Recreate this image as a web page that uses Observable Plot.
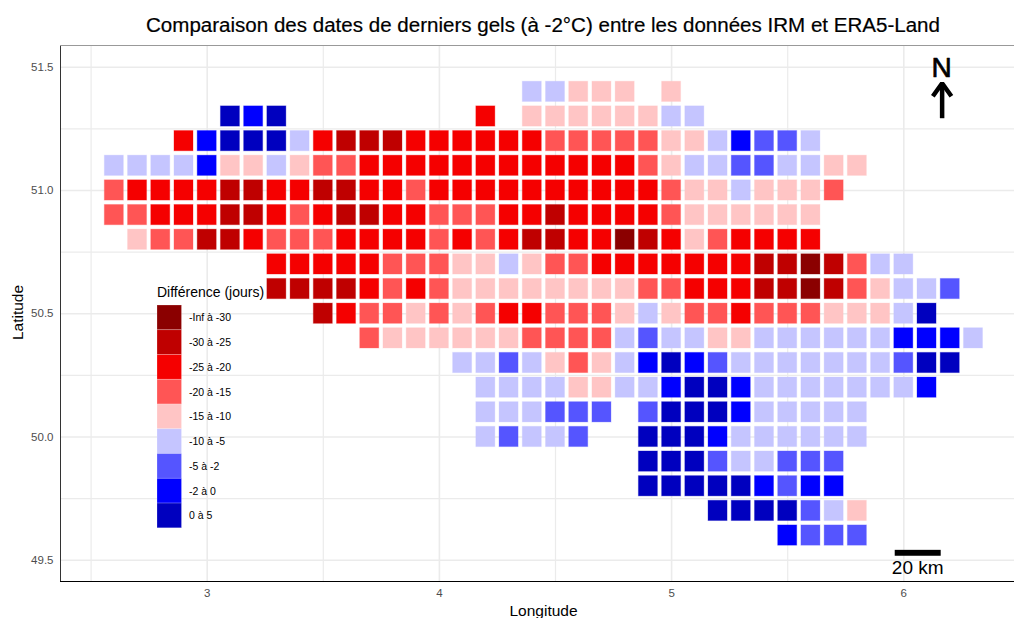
<!DOCTYPE html>
<html><head><meta charset="utf-8">
<script src="https://cdn.jsdelivr.net/npm/d3@7"></script>
<script src="https://cdn.jsdelivr.net/npm/@observablehq/plot@0.6"></script>
<style>
html,body{margin:0;padding:0;background:#fff;overflow:hidden}
#wrap{position:relative;width:1014px;height:618px;font-family:"Liberation Sans",sans-serif}
#title{position:absolute;left:146px;top:13px;font-size:20.55px;color:#000;white-space:nowrap;-webkit-text-stroke:0.2px #000}
#legtitle{position:absolute;left:157px;top:284px;font-size:14px;color:#000;white-space:nowrap}
#leg{position:absolute;left:157px;top:305px}
#main{position:absolute;left:0;top:0}
svg{display:block}
</style></head><body><div id="wrap"><div id="main"></div><div id="title">Comparaison des dates de derniers gels (à -2°C) entre les données IRM et ERA5-Land</div><div id="legtitle">Différence (jours)</div><div id="leg"></div></div>
<script>
const classes = ["-Inf à -30","-30 à -25","-25 à -20","-20 à -15","-15 à -10","-10 à -5","-5 à -2","-2 à 0","0 à 5"];
const colors  = ["#8b0000","#bf0000","#f50000","#ff5555","#ffc5c5","#c5c5ff","#5555ff","#0000ff","#0000bf"];
const codes = "ABCDEFGHI";
const lats = [51.4,51.3,51.2,51.1,51.0,50.9,50.8,50.7,50.6,50.5,50.4,50.3,50.2,50.1,50.0,49.9,49.8,49.7,49.6];
const startLons = [4.4,3.1,2.9,2.6,2.6,2.6,2.7,3.3,3.3,3.5,3.7,4.1,4.2,4.2,4.2,4.9,4.9,5.2,5.5];
const rowCodes = [
 "FFEEE.E",
 "IHI........C.EEEEEEFF",
 "CHIIIFCBBBCCCCCCDDDDDEEFHGGF",
 "FFFFHEEFEDDCCCCCCCCCCCCDEFFGGFFEE",
 "DCCCCBBCCBBCCDCCCCCCCCCCDEEFEEED",
 "DDCCCBBCDCBBCCDDDCCBCCCCDEEEEEE",
 "EDDBBCDDDCCCCDCDCBBCCABCEDCCCC",
 "CCCCCDDDEEFEDDCCCCCCCBBABDFF",
 "BBBBCDCDEEEEEEEEDDCCCBBABDEFFG",
 "BCDDEDEDCCDDDEFEDDCDDDEEEFI",
 "DEEEEEEDDDDFGFFEEFFFFFFHHHF",
 "FFGFEDEFHIHGFFFFFFFGII",
 "FFFFEEFFHIIHFFFFFFFH",
 "FFFGGG.GIIIHFFFFF",
 "FGFFG..IIIHFFFFFF",
 "IIIGFFGGG",
 "IIIIIHGHH",
 "IIIIGFE",
 "HGGG"
];
const tickLons = [3,4,5,6];
const tickLats = [49.5,50,50.5,51,51.5];
const minorLons = [2.5,3.5,4.5,5.5];
const minorLats = [49.75,50.25,50.75,51.25];
const scaleBar = [{x1:5.963,x2:6.161,y1:49.516,y2:49.54,label:"20 km",lx:6.06,ly:49.47}];
const northLabel = [{x:6.163,y:51.495,label:"N"}];
const northShaft = [{x:6.165,y1:51.293,y2:51.43}];
const northHeadLon = [6.125,6.165,6.205];
const northHeadLat = [51.382,51.435,51.382];

const tiles = [];
rowCodes.forEach((s,i)=>{
  [...s].forEach((c,j)=>{
    if(c!=="."){
      const lon = Math.round((startLons[i]+j*0.1)*10)/10;
      tiles.push({lon,lat:lats[i],cls:classes[codes.indexOf(c)]});
    }
  });
});

const chart = Plot.plot({
  width:1014,height:618,marginLeft:60,marginRight:0,marginTop:45,marginBottom:37,
  style:{fontFamily:"Liberation Sans, sans-serif",background:"#fff"},
  x:{domain:[2.3682,6.4767],label:null,axis:null},
  y:{domain:[49.4136,51.588],label:null,axis:null},
  color:{domain:classes,range:colors},
  marks:[
    Plot.gridX(minorLons,{stroke:"#ebebeb",strokeWidth:1.2,strokeOpacity:1}),
    Plot.gridY(minorLats,{stroke:"#ebebeb",strokeWidth:1.2,strokeOpacity:1}),
    Plot.gridX(tickLons,{stroke:"#ebebeb",strokeWidth:1.6,strokeOpacity:1}),
    Plot.gridY(tickLats,{stroke:"#ebebeb",strokeWidth:1.6,strokeOpacity:1}),
    Plot.rect(tiles,{x1:d=>d.lon-0.05,x2:d=>d.lon+0.05,y1:d=>d.lat-0.05,y2:d=>d.lat+0.05,
      fill:"cls",stroke:"cls",strokeOpacity:0.3,strokeWidth:1,insetLeft:2.1,insetRight:2.1,insetTop:2.2,insetBottom:2.2}),
    Plot.rect(scaleBar,{x1:"x1",x2:"x2",y1:"y1",y2:"y2",fill:"#000"}),
    Plot.text(scaleBar,{x:"lx",y:"ly",text:"label",fontSize:19,fill:"#000"}),
    Plot.text(northLabel,{x:"x",y:"y",text:"label",fontSize:28,fill:"#000",stroke:"#000",strokeWidth:0.7}),
    Plot.link(northShaft,{x1:"x",x2:"x",y1:"y1",y2:"y2",stroke:"#000",strokeWidth:4.5}),
    Plot.line(northHeadLon.map((x,i)=>[x,northHeadLat[i]]),{stroke:"#000",strokeWidth:4.5,strokeLinejoin:"miter",strokeLinecap:"butt"}),
    Plot.ruleY([49.4136],{stroke:"#000",strokeWidth:1.2}),
    Plot.ruleX([2.3682],{stroke:"#333",strokeWidth:1}),
    Plot.ruleY([51.588],{stroke:"#999",strokeWidth:1.2}),
    Plot.axisX(tickLons,{anchor:"bottom",tickSize:0,tickPadding:7,fontSize:11.5,color:"#4d4d4d",tickFormat:d3.format("d"),label:null}),
    Plot.axisY(tickLats,{anchor:"left",tickSize:0,tickPadding:7,fontSize:11.5,color:"#4d4d4d",tickFormat:d3.format(".1f"),label:null}),
    Plot.text(["Longitude"],{frameAnchor:"bottom",dx:6,dy:34,lineAnchor:"bottom",fontSize:15.5,fill:"#000"}),
    Plot.text(["Latitude"],{frameAnchor:"left",textAnchor:"middle",rotate:-90,dx:-42,dy:-1,fontSize:15.5,fill:"#000"})
  ]
});
document.getElementById("main").appendChild(chart);

const legend = Plot.plot({
  width:110,height:222.8,marginLeft:0,marginRight:85.5,marginTop:0,marginBottom:0,
  style:{fontFamily:"Liberation Sans, sans-serif",background:"transparent"},
  x:{axis:null},
  y:{domain:classes,axis:null,padding:0,round:false},
  color:{domain:classes,range:colors},
  marks:[
    Plot.cell(classes,{y:d=>d,fill:d=>d,stroke:"#fff",strokeOpacity:0.3,strokeWidth:0.7}),
    Plot.text(classes,{y:d=>d,text:d=>d,frameAnchor:"left",dx:31.5,fontSize:10.5,textAnchor:"start",fill:"#000"})
  ]
});
document.getElementById("leg").appendChild(legend);
</script></body></html>
